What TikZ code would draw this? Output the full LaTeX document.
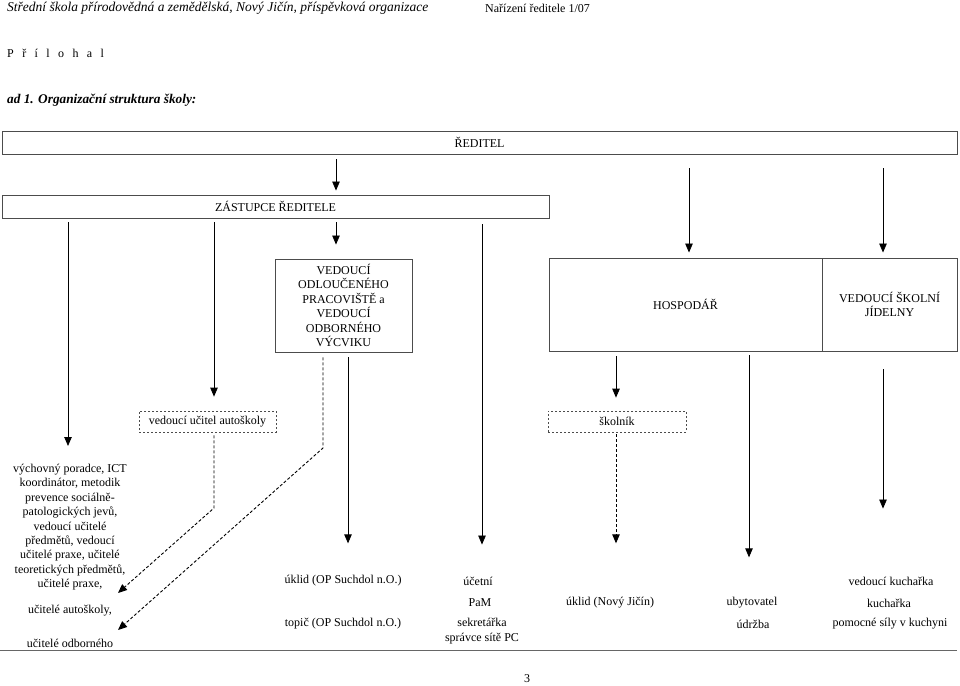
\documentclass[tikz,border=0pt]{standalone}
\usepackage{fontspec}
\setmainfont{Liberation Serif}
\usetikzlibrary{arrows.meta}

\begin{document}
\begin{tikzpicture}[x=1pt, y=-1pt,
font=\fontsize{12}{14.4}\selectfont,
box/.style={draw=black!70, line width=0.9pt, inner sep=0pt, align=center},
dbox/.style={box, draw=black!70, line width=0.7pt, dash pattern=on 2pt off 2pt},
txt/.style={inner sep=0pt, align=center},
arr/.style={-{Triangle[length=9pt, width=7.5pt]}, line width=0.8pt},
darr/.style={arr, line width=0.9pt, dash pattern=on 3pt off 2pt}
]
\useasboundingbox (0,0) rectangle (960,685);

% hlavicka
\node[txt, anchor=west, font=\fontsize{13.5}{16}\selectfont\itshape] (skola) at (7,8) {Střední škola přírodovědná a zemědělská, Nový Jičín, příspěvková organizace};
\node[txt, anchor=west] (narizeni) at (485,8) {Nařízení ředitele 1/07};
\node[txt, anchor=west] (priloha) at (7,53) {\spaceskip=8.4pt\relax P ř í l o h a l};
\node[txt, anchor=west, font=\fontsize{13.3}{16}\selectfont\bfseries\itshape] (nadpis) at (7,100) {ad 1. Organizační struktura školy:};

% boxy
\node[box, minimum width=955pt, minimum height=23pt] (reditel) at (479.5,142.5) {ŘEDITEL};
\node[box, minimum width=547pt, minimum height=23pt] (zastupce) at (275.5,206.5) {ZÁSTUPCE ŘEDITELE};
\node[box, minimum width=137pt, minimum height=93pt] (odlouc) at (343.5,305.5) {VEDOUCÍ\\ODLOUČENÉHO\\PRACOVIŠTĚ a\\VEDOUCÍ\\ODBORNÉHO\\VÝCVIKU};
\node[box, minimum width=273pt, minimum height=93pt] (hospodar) at (685.5,304.5) {HOSPODÁŘ};
\node[box, minimum width=135pt, minimum height=93pt] (jidelna) at (889.5,304.5) {VEDOUCÍ ŠKOLNÍ\\JÍDELNY};
\node[dbox, minimum width=137pt, minimum height=21pt] (autoskoly) at (207.5,421.5) {vedoucí učitel autoškoly};
\node[dbox, minimum width=138pt, minimum height=21pt] (skolnik) at (617,421.5) {školník};

% zamestnanci
\node[txt, anchor=north] (ucitele) at (70,464) {výchovný poradce, ICT\\koordinátor, metodik\\prevence sociálně-\\patologických jevů,\\vedoucí učitelé\\předmětů, vedoucí\\učitelé praxe, učitelé\\teoretických předmětů,\\učitelé praxe,};
\node[txt] (ucAuto) at (70,611) {učitelé autoškoly,};
\node[txt] (ucOdb) at (70,643) {učitelé odborného};
\node[txt] (uklidOP) at (343,581) {úklid (OP Suchdol n.O.)};
\node[txt] (topic) at (343,624) {topič (OP Suchdol n.O.)};
\node[txt] (ucetni) at (478,581) {účetní};
\node[txt] (pam) at (480,603) {PaM};
\node[txt] (sekretarka) at (482,631) {sekretářka\\správce sítě PC};
\node[txt] (uklidNJ) at (610,603) {úklid (Nový Jičín)};
\node[txt] (ubytovatel) at (752,603) {ubytovatel};
\node[txt] (udrzba) at (753,624) {údržba};
\node[txt] (vedKuch) at (891,581) {vedoucí kuchařka};
\node[txt] (kucharka) at (889,603) {kuchařka};
\node[txt] (pomocne) at (890,624) {pomocné síly v kuchyni};
\node[txt] (strana) at (527,679) {3};

\coordinate (tipA) at (118,593);
\coordinate (tipB) at (118,630);

% vazby
\draw[arr, shorten <=5pt, shorten >=4pt] (336,0 |- reditel.south) -- (336,0 |- zastupce.north);
\draw[arr, shorten <=14pt, shorten >=5pt] (689,0 |- reditel.south) -- (689,0 |- hospodar.north);
\draw[arr, shorten <=14pt, shorten >=5pt] (883,0 |- reditel.south) -- (883,0 |- jidelna.north);
\draw[arr, shorten <=4pt, shorten >=14pt] (336,0 |- zastupce.south) -- (336,0 |- odlouc.north);
\draw[arr, shorten <=4pt, shorten >=18pt] (68,0 |- zastupce.south) -- (68,0 |- ucitele.north);
\draw[arr, shorten <=4pt, shorten >=14pt] (214,0 |- zastupce.south) -- (214,0 |- autoskoly.north);
\draw[arr, shorten <=6pt, shorten >=32pt] (482,0 |- zastupce.south) -- (482,0 |- ucetni.north);
\draw[arr, shorten <=5pt, shorten >=32pt] (348,0 |- odlouc.south) -- (348,0 |- uklidOP.north);
\draw[darr, shorten <=5pt] (323,0 |- odlouc.south) -- (323,448) -- (tipB);
\draw[darr, shorten <=3pt] (214,0 |- autoskoly.south) -- (214,508) -- (tipA);
\draw[arr, shorten <=5pt, shorten >=13pt] (616,0 |- hospodar.south) -- (616,0 |- skolnik.north);
\draw[darr, shorten <=2pt, shorten >=54pt] (616,0 |- skolnik.south) -- (616,0 |- uklidNJ.north);
\draw[arr, shorten <=4pt, shorten >=40pt] (749,0 |- hospodar.south) -- (749,0 |- ubytovatel.north);
\draw[arr, shorten <=18pt, shorten >=68pt] (883,0 |- jidelna.south) -- (883,0 |- vedKuch.north);

\draw[black!60, line width=0.6pt] (0,650) -- (957,650);
\end{tikzpicture}
\end{document}
